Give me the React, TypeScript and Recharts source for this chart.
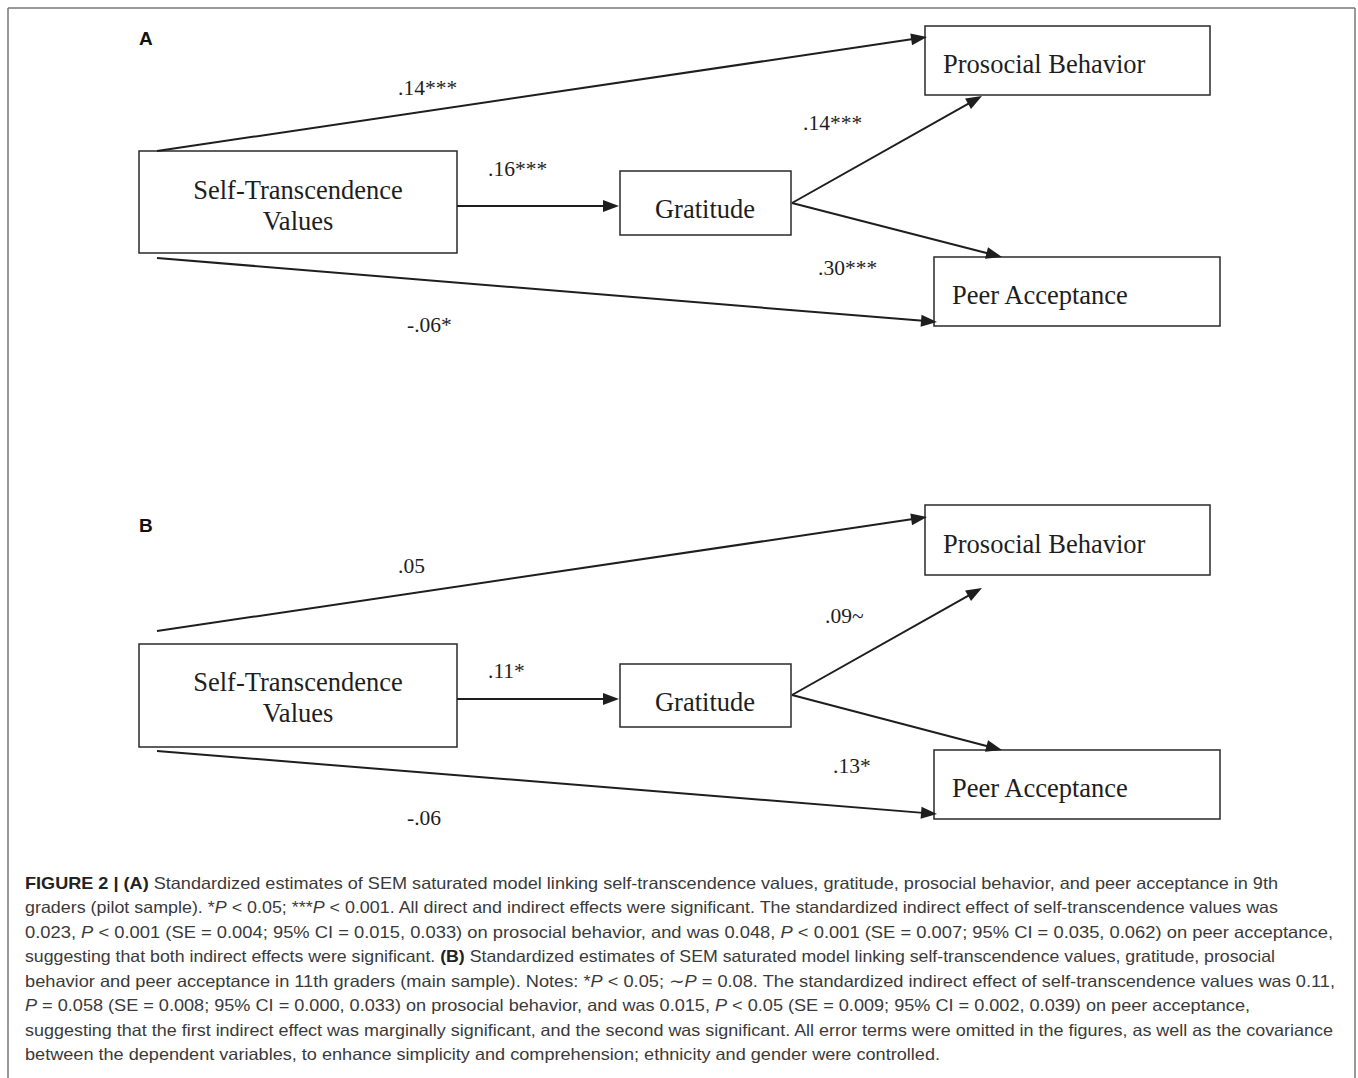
import { ReferenceArea, ReferenceLine, Scatter, ScatterChart, XAxis, YAxis } from "recharts";

const W = 1358;
const H = 1078;

// node names and path coefficients, panel A = 9th graders (pilot), panel B = 11th graders (main)
const panelTags = ["A", "B"];
const nodeLines = [["Self-Transcendence", "Values"], ["Gratitude"], ["Prosocial Behavior"], ["Peer Acceptance"]];
const coefA = [".14***", ".16***", ".14***", ".30***", "-.06*"];
const coefB = [".05", ".11*", ".09~", ".13*", "-.06"];

// caption lines: [text, style] chunks, b = bold, i = italic
const captionLines: [string, string][][] = [
  [["FIGURE 2 | (A)", "b"], [" Standardized estimates of SEM saturated model linking self-transcendence values, gratitude, prosocial behavior, and peer acceptance in 9th", ""]],
  [["graders (pilot sample). *", ""], ["P", "i"], [" < 0.05; ***", ""], ["P", "i"], [" < 0.001. All direct and indirect effects were significant. The standardized indirect effect of self-transcendence values was", ""]],
  [["0.023, ", ""], ["P", "i"], [" < 0.001 (SE = 0.004; 95% CI = 0.015, 0.033) on prosocial behavior, and was 0.048, ", ""], ["P", "i"], [" < 0.001 (SE = 0.007; 95% CI = 0.035, 0.062) on peer acceptance,", ""]],
  [["suggesting that both indirect effects were significant. ", ""], ["(B)", "b"], [" Standardized estimates of SEM saturated model linking self-transcendence values, gratitude, prosocial", ""]],
  [["behavior and peer acceptance in 11th graders (main sample). Notes: *", ""], ["P", "i"], [" < 0.05; \u223c", ""], ["P", "i"], [" = 0.08. The standardized indirect effect of self-transcendence values was 0.11,", ""]],
  [["P", "i"], [" = 0.058 (SE = 0.008; 95% CI = 0.000, 0.033) on prosocial behavior, and was 0.015, ", ""], ["P", "i"], [" < 0.05 (SE = 0.009; 95% CI = 0.002, 0.039) on peer acceptance,", ""]],
  [["suggesting that the first indirect effect was marginally significant, and the second was significant. All error terms were omitted in the figures, as well as the covariance", ""]],
  [["between the dependent variables, to enhance simplicity and comprehension; ethnicity and gender were controlled.", ""]],
];
const captionEnds = [1278, 1278, 1333, 1275, 1335, 1250, 1333, 940];

// geometry in page pixels (axis domain = page size)
const layouts = [
  {
    tag: [139, 45],
    boxes: [[139, 457, 151, 253], [620, 791, 171, 235], [925, 1210, 26, 95], [934, 1220, 257, 326]],
    textPos: [[298, 199], [705, 218], [943, 73], [952, 304]],
    arrows: [[157, 151, 927, 37], [457, 206, 619, 206], [792, 203, 982, 96], [792, 203, 1002, 257], [157, 258, 937, 322]],
    coefPos: [[398, 95], [488, 176], [803, 130], [818, 275], [407, 332]],
  },
  {
    tag: [139, 532],
    boxes: [[139, 457, 644, 747], [620, 791, 664, 727], [925, 1210, 505, 575], [934, 1220, 750, 819]],
    textPos: [[298, 691], [705, 711], [943, 553], [952, 797]],
    arrows: [[157, 631, 927, 517], [457, 699, 619, 699], [792, 695, 982, 588], [792, 695, 1002, 750], [157, 751, 937, 814]],
    coefPos: [[398, 573], [488, 678], [825, 623], [833, 773], [407, 825]],
  },
];

const SERIF = '"Times New Roman", "Liberation Serif", serif';
const SANS = '"Liberation Sans", Arial, sans-serif';
const INK = "#1e1e1e";

const ArrowShape = (p: any) => {
  const { x1, y1, x2, y2 } = p;
  const dx = x2 - x1;
  const dy = y2 - y1;
  const len = Math.hypot(dx, dy) || 1;
  const ux = dx / len;
  const uy = dy / len;
  const hl = 16;
  const hw = 6;
  const bx = x2 - ux * hl;
  const by = y2 - uy * hl;
  return (
    <g>
      <line x1={x1} y1={y1} x2={bx + ux * 2} y2={by + uy * 2} stroke={INK} strokeWidth={2} />
      <polygon points={`${x2},${y2} ${bx - uy * hw},${by + ux * hw} ${bx + uy * hw},${by - ux * hw}`} fill={INK} />
    </g>
  );
};

type TextItem = { x: number; y: number; kind: string; text: string; idx: number };

const diagramText: TextItem[] = [];
layouts.forEach((l, pi) => {
  diagramText.push({ x: l.tag[0], y: l.tag[1], kind: "tag", text: panelTags[pi], idx: 0 });
  nodeLines.forEach((lines, ni) => {
    lines.forEach((t, li) => {
      diagramText.push({ x: l.textPos[ni][0], y: l.textPos[ni][1] + li * 31, kind: ni === 0 || ni === 1 ? "nodeC" : "nodeL", text: t, idx: li });
    });
  });
  const coefs = pi === 0 ? coefA : coefB;
  coefs.forEach((c, ci) => diagramText.push({ x: l.coefPos[ci][0], y: l.coefPos[ci][1], kind: "coef", text: c, idx: ci }));
});

const captionData = captionLines.map((_, i) => ({ x: 25, y: 889 + i * 24.45, idx: i }));

const DiagramText = (p: any) => {
  const d: TextItem = p.payload;
  if (d.kind === "tag")
    return <text x={p.cx} y={p.cy} fontFamily={SANS} fontWeight={700} fontSize={19} fill="#111">{d.text}</text>;
  if (d.kind === "coef")
    return <text x={p.cx} y={p.cy} fontFamily={SERIF} fontSize={21.5} fill={INK}>{d.text}</text>;
  return (
    <text x={p.cx} y={p.cy} fontFamily={SERIF} fontSize={26.5} fill={INK} textAnchor={d.kind === "nodeC" ? "middle" : "start"}>
      {d.text}
    </text>
  );
};

const CaptionLine = (p: any) => {
  const i = p.payload.idx;
  return (
    <text x={p.cx} y={p.cy} fontFamily={SANS} fontSize={16.5} fill="#3a3a3a" textLength={captionEnds[i] - 25} lengthAdjust="spacingAndGlyphs">
      {captionLines[i].map(([t, s], k) => (
        <tspan key={k} fontWeight={s === "b" ? 700 : 400} fontStyle={s === "i" ? "italic" : "normal"} fill={s === "b" ? "#222" : undefined}>
          {t}
        </tspan>
      ))}
    </text>
  );
};

export default function App() {
  return (
    <div style={{ width: W, height: H, background: "#fff" }}>
      <style>{"body{margin:0}"}</style>
      <ScatterChart width={W} height={H} margin={{ top: 0, right: 0, bottom: 0, left: 0 }}>
        <XAxis type="number" dataKey="x" domain={[0, W]} hide allowDataOverflow />
        <YAxis type="number" dataKey="y" domain={[0, H]} reversed hide allowDataOverflow />
        {/* outer frame */}
        <ReferenceLine segment={[{ x: 8, y: 8 }, { x: 1355, y: 8 }]} stroke="#777" strokeWidth={1.5} />
        <ReferenceLine segment={[{ x: 8, y: 8 }, { x: 8, y: H }]} stroke="#777" strokeWidth={1.5} />
        <ReferenceLine segment={[{ x: 1355, y: 8 }, { x: 1355, y: H }]} stroke="#777" strokeWidth={1.5} />
        {layouts.map((l, pi) =>
          l.boxes.map((b, bi) => (
            <ReferenceArea key={`b${pi}-${bi}`} x1={b[0]} x2={b[1]} y1={b[2]} y2={b[3]} fill="none" stroke="#2a2a2a" strokeWidth={1.5} />
          ))
        )}
        {layouts.map((l, pi) =>
          l.arrows.map((a, ai) => (
            <ReferenceLine key={`a${pi}-${ai}`} segment={[{ x: a[0], y: a[1] }, { x: a[2], y: a[3] }]} shape={ArrowShape} />
          ))
        )}
        <Scatter data={diagramText} shape={DiagramText} isAnimationActive={false} />
        <Scatter data={captionData} shape={CaptionLine} isAnimationActive={false} />
      </ScatterChart>
    </div>
  );
}
